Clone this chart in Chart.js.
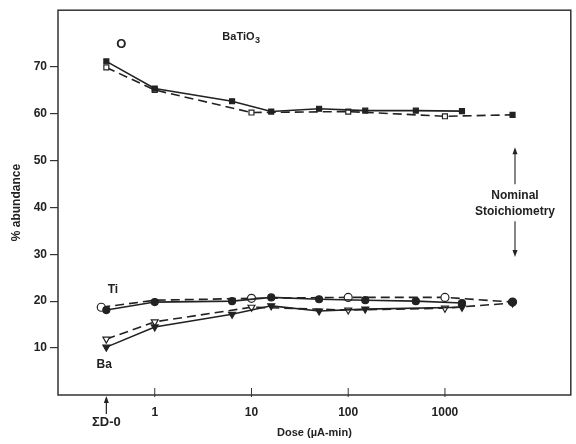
<!DOCTYPE html>
<html>
<head>
<meta charset="utf-8">
<script src="https://cdn.jsdelivr.net/npm/chart.js@4/dist/chart.umd.min.js"></script>
<style>
  html, body { margin: 0; padding: 0; background: #fff; }
  #wrap { width: 576px; height: 444px; }
</style>
</head>
<body>
<div id="wrap"><canvas id="chart"></canvas></div>
<script>
// dose values (uA-min); 0.316 stands for the "ΣD-0" starting point
const oSolidDose = [0.316, 1, 6.3, 16, 50, 150, 500, 1500];
const oSolidPct  = [71.1, 65.3, 62.6, 60.4, 61.0, 60.6, 60.6, 60.5];
const oDashDose  = [0.316, 1, 10, 100, 1000, 5000];
const oDashPct   = [69.8, 65.0, 60.2, 60.4, 59.4, 59.7];

const tiSolidDose = [0.316, 1, 6.3, 16, 50, 150, 500, 1500];
const tiSolidPct  = [18.1, 19.8, 20.0, 20.8, 20.4, 20.2, 20.0, 19.6];
const tiDashDose  = [0.28, 1, 10, 100, 1000, 5000];
const tiDashPct   = [18.7, 20.2, 20.6, 20.8, 20.8, 19.8];

const baSolidDose = [0.316, 1, 6.3, 16, 50, 150, 1500];
const baSolidPct  = [10.2, 14.5, 17.2, 19.0, 17.9, 18.3, 18.7];
const baDashDose  = [0.316, 1, 10, 100, 1000, 5000];
const baDashPct   = [11.9, 15.6, 18.7, 18.1, 18.5, 19.6];

const xTicks = [1, 10, 100, 1000];
const yTicks = [10, 20, 30, 40, 50, 60, 70];

const ink = '#222';
const font = 'Liberation Sans, Arial, sans-serif';

function pts(xs, ys) {
  return xs.map((x, i) => ({ x: x, y: ys[i] }));
}

// open markers on dashed series, but the last (5000) point is filled
function openFill(n) {
  const a = new Array(n).fill('#fff');
  a[n - 1] = ink;
  return a;
}

function solid(label, xs, ys, style, r, rot) {
  return {
    label: label, data: pts(xs, ys),
    borderColor: ink, borderWidth: 1.6,
    pointStyle: style, pointRadius: r, pointRotation: rot || 0,
    pointBackgroundColor: ink, pointBorderColor: ink, pointBorderWidth: 1.2
  };
}

function dashed(label, xs, ys, style, r, rot) {
  return {
    label: label, data: pts(xs, ys),
    borderColor: ink, borderWidth: 1.6, borderDash: [9, 5],
    pointStyle: style, pointRadius: r, pointRotation: rot || 0,
    pointBackgroundColor: openFill(xs.length), pointBorderColor: ink, pointBorderWidth: 1.2
  };
}

const tiDash = dashed('Ti (dashed)', tiDashDose, tiDashPct, 'circle', 4);
tiDash.pointRadius = tiDashDose.map((d) => d === 1 ? 0 : 4);

const annotate = {
  id: 'annotate',
  afterDraw(chart) {
    const { ctx, chartArea: a, scales: { x, y } } = chart;
    ctx.save();
    // frame
    ctx.strokeStyle = '#333';
    ctx.lineWidth = 1.5;
    ctx.strokeRect(a.left, a.top, a.right - a.left, a.bottom - a.top);

    // x tick marks, drawn across the axis
    ctx.lineWidth = 1;
    xTicks.forEach((t) => {
      const px = x.getPixelForValue(t);
      ctx.beginPath();
      ctx.moveTo(px, a.bottom - 7);
      ctx.lineTo(px, a.bottom + 2);
      ctx.stroke();
    });

    ctx.fillStyle = ink;
    ctx.strokeStyle = ink;
    ctx.textAlign = 'center';
    ctx.textBaseline = 'middle';

    // ΣD-0 marker below the axis
    const x0 = x.getPixelForValue(0.316);
    ctx.lineWidth = 1.2;
    ctx.beginPath();
    ctx.moveTo(x0, a.bottom + 19);
    ctx.lineTo(x0, a.bottom + 4);
    ctx.stroke();
    ctx.beginPath();
    ctx.moveTo(x0, a.bottom + 1);
    ctx.lineTo(x0 - 2.5, a.bottom + 8);
    ctx.lineTo(x0 + 2.5, a.bottom + 8);
    ctx.closePath();
    ctx.fill();
    ctx.font = 'bold 13px ' + font;
    ctx.fillText('ΣD-0', x0, a.bottom + 27);

    // series labels
    ctx.font = 'bold 13px ' + font;
    ctx.fillText('O', x.getPixelForValue(0.45), y.getPixelForValue(74.7));
    ctx.font = 'bold 12px ' + font;
    ctx.fillText('Ti', x.getPixelForValue(0.37), y.getPixelForValue(22.5));
    ctx.fillText('Ba', x.getPixelForValue(0.30), y.getPixelForValue(6.4));

    // BaTiO3 with subscript
    ctx.textAlign = 'left';
    ctx.font = 'bold 11px ' + font;
    const bx = x.getPixelForValue(5.0);
    const by = y.getPixelForValue(76.4);
    ctx.fillText('BaTiO', bx, by);
    const w = ctx.measureText('BaTiO').width;
    ctx.font = 'bold 9px ' + font;
    ctx.fillText('3', bx + w + 0.5, by + 4);

    // nominal stoichiometry note with arrows
    ctx.textAlign = 'center';
    ctx.font = 'bold 12px ' + font;
    const nx = x.getPixelForValue(5300);
    ctx.fillText('Nominal', nx, y.getPixelForValue(42.5));
    ctx.fillText('Stoichiometry', nx, y.getPixelForValue(39.1));
    const arrow = (fromV, toV) => {
      const p1 = y.getPixelForValue(fromV);
      const p2 = y.getPixelForValue(toV);
      const dir = p2 < p1 ? -1 : 1;
      ctx.lineWidth = 1.1;
      ctx.beginPath();
      ctx.moveTo(nx, p1);
      ctx.lineTo(nx, p2 - dir * 5);
      ctx.stroke();
      ctx.beginPath();
      ctx.moveTo(nx, p2);
      ctx.lineTo(nx - 2.5, p2 - dir * 7);
      ctx.lineTo(nx + 2.5, p2 - dir * 7);
      ctx.closePath();
      ctx.fill();
    };
    arrow(44.9, 52.8);
    arrow(37.0, 29.4);
    ctx.restore();
  }
};

new Chart(document.getElementById('chart'), {
  type: 'line',
  data: {
    datasets: [
      solid('O (solid)', oSolidDose, oSolidPct, 'rect', 3.5),
      dashed('O (dashed)', oDashDose, oDashPct, 'rect', 3.5),
      solid('Ti (solid)', tiSolidDose, tiSolidPct, 'circle', 3.5),
      tiDash,
      solid('Ba (solid)', baSolidDose, baSolidPct, 'triangle', 4, 180),
      dashed('Ba (dashed)', baDashDose, baDashPct, 'triangle', 4, 180)
    ]
  },
  plugins: [annotate],
  options: {
    responsive: true,
    maintainAspectRatio: false,
    animation: false,
    layout: { padding: { top: 10, right: -3, left: 0, bottom: 0 } },
    plugins: { legend: { display: false }, tooltip: { enabled: false } },
    scales: {
      x: {
        type: 'logarithmic',
        min: 0.1, max: 20000,
        afterBuildTicks: (s) => { s.ticks = xTicks.map((v) => ({ value: v })); },
        afterFit: (s) => { s.height = 49; },
        border: { display: false },
        grid: { display: false },
        ticks: {
          color: ink, padding: 2, maxRotation: 0, autoSkip: false,
          font: { family: font, size: 12, weight: 'bold' },
          callback: (v) => String(v)
        },
        title: {
          display: true, text: 'Dose (\u00b5A-min)', color: ink,
          font: { family: font, size: 11, weight: 'bold' }, padding: { top: 12 }
        }
      },
      y: {
        min: 0, max: 82,
        afterBuildTicks: (s) => { s.ticks = yTicks.map((v) => ({ value: v })); },
        afterFit: (s) => { s.width = 58; },
        border: { display: false },
        grid: { drawOnChartArea: false, tickLength: 8, color: '#333', lineWidth: 1.2 },
        ticks: {
          color: ink, padding: 3,
          font: { family: font, size: 12, weight: 'bold' }
        },
        title: {
          display: true, text: '% abundance', color: ink,
          font: { family: font, size: 12, weight: 'bold' }, padding: { top: 9, bottom: 2 }
        }
      }
    }
  }
});
</script>
</body>
</html>
